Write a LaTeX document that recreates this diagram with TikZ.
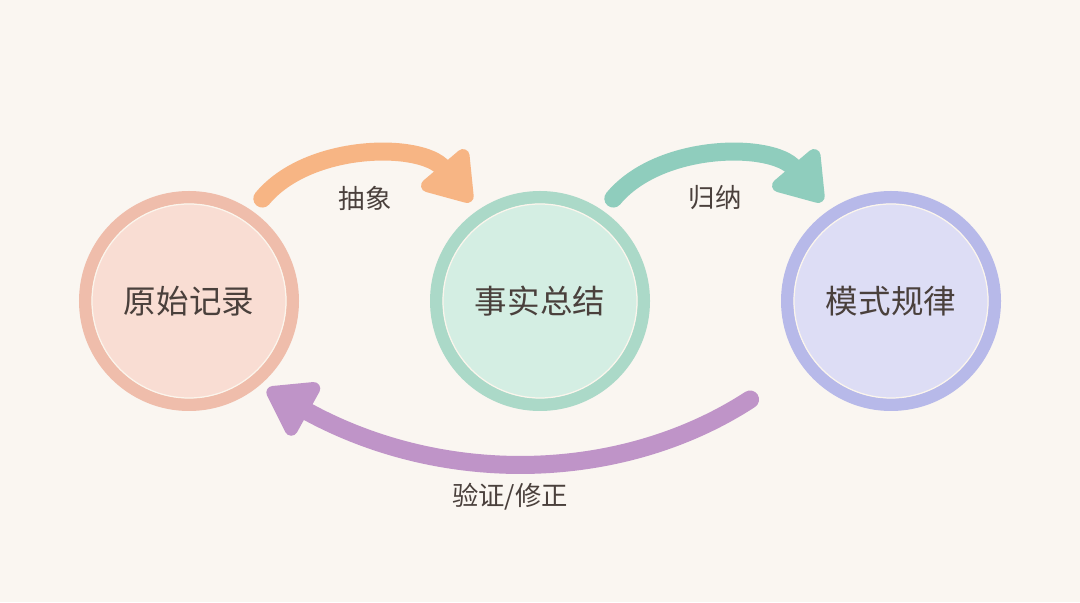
\documentclass[tikz,border=0pt]{standalone}
\usepackage{fontspec}
\setmainfont{Noto Sans CJK SC}
\usetikzlibrary{arrows.meta}
\definecolor{paper}{HTML}{FAF6F1}
\definecolor{ink}{HTML}{4A403C}
\definecolor{cream}{HTML}{FBF5EC}
\definecolor{roseRing}{HTML}{EFBDAB}
\definecolor{roseFill}{HTML}{F9DDD3}
\definecolor{mintRing}{HTML}{ABD9C8}
\definecolor{mintFill}{HTML}{D4EEE3}
\definecolor{lilacRing}{HTML}{B7B9E9}
\definecolor{lilacFill}{HTML}{DDDDF5}
\definecolor{apricot}{HTML}{F7B584}
\definecolor{teal}{HTML}{8FCDBD}
\definecolor{plum}{HTML}{BF94C8}
\begin{document}
\begin{tikzpicture}[
    stg/.style={circle, draw=#1Ring, fill=#1Fill, line width=0.25cm,
                minimum size=4.15cm, inner sep=0pt, text=ink,
                font=\fontsize{18.5}{22}\selectfont},
    lbl/.style={text=ink, font=\fontsize{15}{18}\selectfont},
    arr/.style={draw=#1, line width=0.36cm, line cap=round,
                -{Triangle[length=1.05cm, width=1.35cm, round]}}
  ]
  \fill[paper] (0,0) rectangle (21.6,12.04);
  \useasboundingbox (0,0) rectangle (21.6,12.04);
  % -- stages --
  \node[stg=rose]  (raw)  at (3.78,6.02)  {原始记录};
  \node[stg=mint]  (fact) at (10.8,6.02)  {事实总结};
  \node[stg=lilac] (rule) at (17.82,6.02) {模式规律};
  \foreach \n in {raw,fact,rule}{ \draw[cream, line width=0.7pt] (\n.center) circle (1.94cm); }
  % -- arrows --
  \draw[arr=apricot, shorten <=0.32cm, shorten >=0.22cm] (raw.55) to[bend left=50] (fact.124);
  \draw[arr=teal, shorten <=0.32cm, shorten >=0.22cm] (fact.55) to[bend left=50] (rule.124);
  \draw[arr=plum, shorten <=1.24cm, shorten >=0.17cm] (rule.216) to[bend left=31] (raw.-50);
  % -- labels --
  \node[lbl] (abs) at (7.3,8.08)  {抽象};
  \node[lbl] (ind) at (14.3,8.08) {归纳};
  \node[lbl] (ver) at (10.2,2.1)  {验证/修正};
\end{tikzpicture}
\end{document}
